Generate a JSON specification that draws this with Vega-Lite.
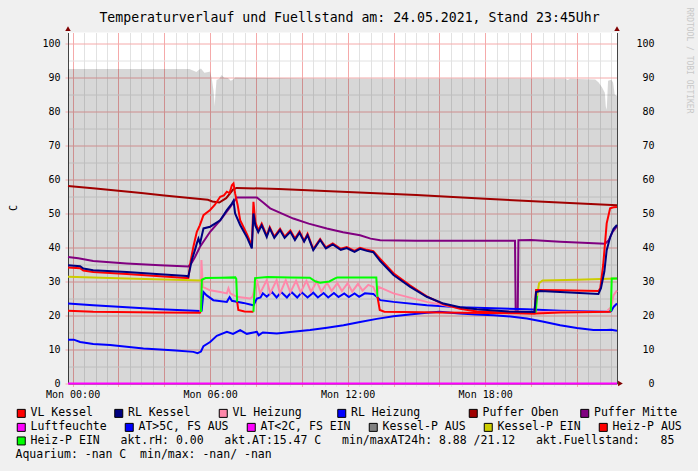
{
  "$schema": "https://vega.github.io/schema/vega-lite/v6.json",
  "width": 549,
  "height": 351,
  "autosize": "none",
  "padding": {"left": 68, "top": 32.5, "right": 81, "bottom": 87.5},
  "background": "#f0f0f0",
  "view": {"fill": "#ffffff", "stroke": null},
  "config": {"font": "DejaVu Sans Mono",
    "legend": {"orient": "none", "legendX": -52.5, "direction": "horizontal", "padding": 0,
      "symbolType": "square", "symbolSize": 64, "symbolStrokeColor": "#000000", "symbolStrokeWidth": 1, "symbolOpacity": 1,
      "labelFont": "DejaVu Sans Mono", "labelFontSize": 11.5, "labelColor": "#000000", "labelOffset": 3.5, "labelLimit": 0,
      "titleFont": "DejaVu Sans Mono", "titleFontSize": 11.5, "titleFontWeight": "normal", "titleColor": "#000000", "titleLimit": 0}},
  "title": {"text": "Temperaturverlauf und Fuellstand am: 24.05.2021, Stand 23:45Uhr", "font": "DejaVu Sans Mono", "fontSize": 13.2, "fontWeight": "normal", "color": "#000000", "anchor": "middle", "frame": "group", "dx": 7, "dy": 39.5, "offset": 11, "baseline": "alphabetic"},
  "datasets": {
    "fill": [
      {"h": -0.2, "v": 92.5}, {"h": 5.1, "v": 92.5}, {"h": 5.3, "v": 91.9}, {"h": 5.4, "v": 91.6}, {"h": 5.5, "v": 92.2}, {"h": 5.6, "v": 92.6}, {"h": 5.75, "v": 91.4}, {"h": 5.92, "v": 91.6}, {"h": 6.0, "v": 91.7}, {"h": 6.08, "v": 89.3}, {"h": 6.15, "v": 86.0}, {"h": 6.2, "v": 81.6}, {"h": 6.24, "v": 86.0}, {"h": 6.28, "v": 89.2}, {"h": 6.4, "v": 89.6}, {"h": 6.5, "v": 90.7}, {"h": 6.62, "v": 89.9}, {"h": 6.78, "v": 89.8}, {"h": 6.9, "v": 89.0}, {"h": 7.0, "v": 89.4}, {"h": 7.1, "v": 90.0}, {"h": 7.5, "v": 89.9}, {"h": 10.0, "v": 89.7}, {"h": 14.0, "v": 89.6}, {"h": 18.0, "v": 89.7}, {"h": 21.5, "v": 89.6}, {"h": 21.6, "v": 89.2}, {"h": 21.7, "v": 89.6}, {"h": 22.8, "v": 89.4}, {"h": 22.95, "v": 88.5}, {"h": 23.1, "v": 87.0}, {"h": 23.22, "v": 85.5}, {"h": 23.26, "v": 81.5}, {"h": 23.3, "v": 80.5}, {"h": 23.36, "v": 89.0}, {"h": 23.5, "v": 89.3}, {"h": 23.58, "v": 88.5}, {"h": 23.65, "v": 85.0}, {"h": 23.75, "v": 84.5}
    ],
    "lines": [
      {"s": "Luftfeuchte", "g": "L", "h": -0.2, "v": 0}, {"s": "Luftfeuchte", "g": "L", "h": 23.75, "v": 0},

      {"s": "AT>5C, FS AUS", "g": "AT", "h": -0.2, "v": 12.9}, {"s": "AT>5C, FS AUS", "g": "AT", "h": 0.05, "v": 12.9}, {"s": "AT>5C, FS AUS", "g": "AT", "h": 0.33, "v": 12.2}, {"s": "AT>5C, FS AUS", "g": "AT", "h": 0.9, "v": 11.6}, {"s": "AT>5C, FS AUS", "g": "AT", "h": 1.64, "v": 11.3}, {"s": "AT>5C, FS AUS", "g": "AT", "h": 2.36, "v": 10.8}, {"s": "AT>5C, FS AUS", "g": "AT", "h": 3.09, "v": 10.3}, {"s": "AT>5C, FS AUS", "g": "AT", "h": 3.82, "v": 10.0}, {"s": "AT>5C, FS AUS", "g": "AT", "h": 4.5, "v": 9.7}, {"s": "AT>5C, FS AUS", "g": "AT", "h": 5.27, "v": 9.3}, {"s": "AT>5C, FS AUS", "g": "AT", "h": 5.45, "v": 8.9}, {"s": "AT>5C, FS AUS", "g": "AT", "h": 5.6, "v": 9.4}, {"s": "AT>5C, FS AUS", "g": "AT", "h": 5.71, "v": 11.0}, {"s": "AT>5C, FS AUS", "g": "AT", "h": 6.0, "v": 12.2}, {"s": "AT>5C, FS AUS", "g": "AT", "h": 6.29, "v": 14.0}, {"s": "AT>5C, FS AUS", "g": "AT", "h": 6.73, "v": 15.2}, {"s": "AT>5C, FS AUS", "g": "AT", "h": 7.0, "v": 14.6}, {"s": "AT>5C, FS AUS", "g": "AT", "h": 7.31, "v": 15.7}, {"s": "AT>5C, FS AUS", "g": "AT", "h": 7.6, "v": 14.6}, {"s": "AT>5C, FS AUS", "g": "AT", "h": 8.04, "v": 15.2}, {"s": "AT>5C, FS AUS", "g": "AT", "h": 8.12, "v": 14.2}, {"s": "AT>5C, FS AUS", "g": "AT", "h": 8.3, "v": 15.0}, {"s": "AT>5C, FS AUS", "g": "AT", "h": 8.91, "v": 14.7}, {"s": "AT>5C, FS AUS", "g": "AT", "h": 9.6, "v": 15.2}, {"s": "AT>5C, FS AUS", "g": "AT", "h": 10.36, "v": 15.7}, {"s": "AT>5C, FS AUS", "g": "AT", "h": 11.1, "v": 16.4}, {"s": "AT>5C, FS AUS", "g": "AT", "h": 11.82, "v": 17.1}, {"s": "AT>5C, FS AUS", "g": "AT", "h": 12.54, "v": 18.1}, {"s": "AT>5C, FS AUS", "g": "AT", "h": 13.27, "v": 19.0}, {"s": "AT>5C, FS AUS", "g": "AT", "h": 14.0, "v": 19.8}, {"s": "AT>5C, FS AUS", "g": "AT", "h": 14.7, "v": 20.3}, {"s": "AT>5C, FS AUS", "g": "AT", "h": 15.45, "v": 20.8}, {"s": "AT>5C, FS AUS", "g": "AT", "h": 16.0, "v": 21.1}, {"s": "AT>5C, FS AUS", "g": "AT", "h": 16.9, "v": 20.6}, {"s": "AT>5C, FS AUS", "g": "AT", "h": 17.6, "v": 20.3}, {"s": "AT>5C, FS AUS", "g": "AT", "h": 18.36, "v": 20.1}, {"s": "AT>5C, FS AUS", "g": "AT", "h": 19.1, "v": 19.7}, {"s": "AT>5C, FS AUS", "g": "AT", "h": 19.82, "v": 19.1}, {"s": "AT>5C, FS AUS", "g": "AT", "h": 20.5, "v": 18.2}, {"s": "AT>5C, FS AUS", "g": "AT", "h": 21.27, "v": 17.1}, {"s": "AT>5C, FS AUS", "g": "AT", "h": 22.0, "v": 16.3}, {"s": "AT>5C, FS AUS", "g": "AT", "h": 22.72, "v": 15.7}, {"s": "AT>5C, FS AUS", "g": "AT", "h": 23.3, "v": 15.7}, {"s": "AT>5C, FS AUS", "g": "AT", "h": 23.5, "v": 15.8}, {"s": "AT>5C, FS AUS", "g": "AT", "h": 23.75, "v": 15.5},

      {"s": "Puffer Oben", "g": "PO", "h": -0.2, "v": 58.1}, {"s": "Puffer Oben", "g": "PO", "h": 1, "v": 57.3}, {"s": "Puffer Oben", "g": "PO", "h": 2, "v": 56.7}, {"s": "Puffer Oben", "g": "PO", "h": 3, "v": 56.0}, {"s": "Puffer Oben", "g": "PO", "h": 4, "v": 55.3}, {"s": "Puffer Oben", "g": "PO", "h": 5, "v": 54.6}, {"s": "Puffer Oben", "g": "PO", "h": 5.9, "v": 54.0}, {"s": "Puffer Oben", "g": "PO", "h": 6.1, "v": 53.5}, {"s": "Puffer Oben", "g": "PO", "h": 6.4, "v": 53.2}, {"s": "Puffer Oben", "g": "PO", "h": 6.7, "v": 54.5}, {"s": "Puffer Oben", "g": "PO", "h": 7.0, "v": 57.0}, {"s": "Puffer Oben", "g": "PO", "h": 7.15, "v": 57.5}, {"s": "Puffer Oben", "g": "PO", "h": 9, "v": 57.2}, {"s": "Puffer Oben", "g": "PO", "h": 12, "v": 56.3}, {"s": "Puffer Oben", "g": "PO", "h": 15, "v": 55.4}, {"s": "Puffer Oben", "g": "PO", "h": 18, "v": 54.3}, {"s": "Puffer Oben", "g": "PO", "h": 21, "v": 53.3}, {"s": "Puffer Oben", "g": "PO", "h": 23.75, "v": 52.4},

      {"s": "Puffer Mitte", "g": "PM", "h": -0.2, "v": 37.2}, {"s": "Puffer Mitte", "g": "PM", "h": 0.25, "v": 36.8}, {"s": "Puffer Mitte", "g": "PM", "h": 0.9, "v": 36.0}, {"s": "Puffer Mitte", "g": "PM", "h": 2.36, "v": 35.3}, {"s": "Puffer Mitte", "g": "PM", "h": 3.82, "v": 34.8}, {"s": "Puffer Mitte", "g": "PM", "h": 5.05, "v": 34.4}, {"s": "Puffer Mitte", "g": "PM", "h": 5.2, "v": 35.5}, {"s": "Puffer Mitte", "g": "PM", "h": 5.34, "v": 37.2}, {"s": "Puffer Mitte", "g": "PM", "h": 5.56, "v": 40.2}, {"s": "Puffer Mitte", "g": "PM", "h": 6.0, "v": 44.6}, {"s": "Puffer Mitte", "g": "PM", "h": 6.44, "v": 48.0}, {"s": "Puffer Mitte", "g": "PM", "h": 6.88, "v": 51.9}, {"s": "Puffer Mitte", "g": "PM", "h": 7.16, "v": 54.7}, {"s": "Puffer Mitte", "g": "PM", "h": 8.04, "v": 54.7}, {"s": "Puffer Mitte", "g": "PM", "h": 8.3, "v": 53.3}, {"s": "Puffer Mitte", "g": "PM", "h": 8.62, "v": 51.5}, {"s": "Puffer Mitte", "g": "PM", "h": 9.63, "v": 48.5}, {"s": "Puffer Mitte", "g": "PM", "h": 10.3, "v": 47.0}, {"s": "Puffer Mitte", "g": "PM", "h": 11.09, "v": 45.6}, {"s": "Puffer Mitte", "g": "PM", "h": 11.8, "v": 44.5}, {"s": "Puffer Mitte", "g": "PM", "h": 12.54, "v": 43.6}, {"s": "Puffer Mitte", "g": "PM", "h": 13.0, "v": 42.6}, {"s": "Puffer Mitte", "g": "PM", "h": 13.42, "v": 42.1}, {"s": "Puffer Mitte", "g": "PM", "h": 15, "v": 42.0}, {"s": "Puffer Mitte", "g": "PM", "h": 17, "v": 42.0}, {"s": "Puffer Mitte", "g": "PM", "h": 19.3, "v": 42.0}, {"s": "Puffer Mitte", "g": "PM", "h": 19.33, "v": 21.2}, {"s": "Puffer Mitte", "g": "PM", "h": 19.42, "v": 21.2}, {"s": "Puffer Mitte", "g": "PM", "h": 19.45, "v": 42.1}, {"s": "Puffer Mitte", "g": "PM", "h": 20, "v": 42.2}, {"s": "Puffer Mitte", "g": "PM", "h": 21.27, "v": 41.7}, {"s": "Puffer Mitte", "g": "PM", "h": 22.5, "v": 41.3}, {"s": "Puffer Mitte", "g": "PM", "h": 23.23, "v": 41.1}, {"s": "Puffer Mitte", "g": "PM", "h": 23.4, "v": 42.2}, {"s": "Puffer Mitte", "g": "PM", "h": 23.55, "v": 44.5}, {"s": "Puffer Mitte", "g": "PM", "h": 23.75, "v": 46.3},

      {"s": "RL Heizung", "g": "RH", "h": -0.2, "v": 23.5}, {"s": "RL Heizung", "g": "RH", "h": 0.9, "v": 23.0}, {"s": "RL Heizung", "g": "RH", "h": 2.36, "v": 22.4}, {"s": "RL Heizung", "g": "RH", "h": 3.82, "v": 21.8}, {"s": "RL Heizung", "g": "RH", "h": 5.56, "v": 21.3}, {"s": "RL Heizung", "g": "RH", "h": 5.63, "v": 21.4}, {"s": "RL Heizung", "g": "RH", "h": 5.71, "v": 26.9}, {"s": "RL Heizung", "g": "RH", "h": 5.85, "v": 25.9}, {"s": "RL Heizung", "g": "RH", "h": 6.14, "v": 24.5}, {"s": "RL Heizung", "g": "RH", "h": 6.73, "v": 24.0}, {"s": "RL Heizung", "g": "RH", "h": 6.85, "v": 25.4}, {"s": "RL Heizung", "g": "RH", "h": 6.95, "v": 24.3}, {"s": "RL Heizung", "g": "RH", "h": 7.45, "v": 23.7}, {"s": "RL Heizung", "g": "RH", "h": 7.89, "v": 23.0}, {"s": "RL Heizung", "g": "RH", "h": 8.04, "v": 25.0}, {"s": "RL Heizung", "g": "RH", "h": 8.2, "v": 25.3}, {"s": "RL Heizung", "g": "RH", "h": 8.3, "v": 26.5}, {"s": "RL Heizung", "g": "RH", "h": 8.47, "v": 25.5}, {"s": "RL Heizung", "g": "RH", "h": 8.7, "v": 26.9}, {"s": "RL Heizung", "g": "RH", "h": 8.9, "v": 25.3}, {"s": "RL Heizung", "g": "RH", "h": 9.1, "v": 26.9}, {"s": "RL Heizung", "g": "RH", "h": 9.35, "v": 25.3}, {"s": "RL Heizung", "g": "RH", "h": 9.55, "v": 26.9}, {"s": "RL Heizung", "g": "RH", "h": 9.8, "v": 25.3}, {"s": "RL Heizung", "g": "RH", "h": 10.0, "v": 26.8}, {"s": "RL Heizung", "g": "RH", "h": 10.25, "v": 25.3}, {"s": "RL Heizung", "g": "RH", "h": 10.5, "v": 26.7}, {"s": "RL Heizung", "g": "RH", "h": 10.7, "v": 25.3}, {"s": "RL Heizung", "g": "RH", "h": 10.95, "v": 26.6}, {"s": "RL Heizung", "g": "RH", "h": 11.15, "v": 25.3}, {"s": "RL Heizung", "g": "RH", "h": 11.4, "v": 26.6}, {"s": "RL Heizung", "g": "RH", "h": 11.6, "v": 25.4}, {"s": "RL Heizung", "g": "RH", "h": 11.85, "v": 26.5}, {"s": "RL Heizung", "g": "RH", "h": 12.05, "v": 25.4}, {"s": "RL Heizung", "g": "RH", "h": 12.3, "v": 26.5}, {"s": "RL Heizung", "g": "RH", "h": 12.5, "v": 25.5}, {"s": "RL Heizung", "g": "RH", "h": 12.75, "v": 26.5}, {"s": "RL Heizung", "g": "RH", "h": 13.12, "v": 26.3}, {"s": "RL Heizung", "g": "RH", "h": 13.27, "v": 25.5}, {"s": "RL Heizung", "g": "RH", "h": 13.42, "v": 24.5}, {"s": "RL Heizung", "g": "RH", "h": 14.0, "v": 24.0}, {"s": "RL Heizung", "g": "RH", "h": 15.45, "v": 23.0}, {"s": "RL Heizung", "g": "RH", "h": 16.9, "v": 22.4}, {"s": "RL Heizung", "g": "RH", "h": 19.82, "v": 21.8}, {"s": "RL Heizung", "g": "RH", "h": 21.27, "v": 21.4}, {"s": "RL Heizung", "g": "RH", "h": 23.3, "v": 21.1}, {"s": "RL Heizung", "g": "RH", "h": 23.5, "v": 21.3}, {"s": "RL Heizung", "g": "RH", "h": 23.6, "v": 22.5}, {"s": "RL Heizung", "g": "RH", "h": 23.75, "v": 23.5},

      {"s": "VL Heizung", "g": "VH", "h": 5.58, "v": 21.0}, {"s": "VL Heizung", "g": "VH", "h": 5.62, "v": 36.3}, {"s": "VL Heizung", "g": "VH", "h": 5.68, "v": 28.4}, {"s": "VL Heizung", "g": "VH", "h": 6.0, "v": 27.4}, {"s": "VL Heizung", "g": "VH", "h": 6.5, "v": 26.8}, {"s": "VL Heizung", "g": "VH", "h": 6.73, "v": 26.5}, {"s": "VL Heizung", "g": "VH", "h": 6.8, "v": 28.0}, {"s": "VL Heizung", "g": "VH", "h": 6.88, "v": 26.5}, {"s": "VL Heizung", "g": "VH", "h": 7.16, "v": 25.5}, {"s": "VL Heizung", "g": "VH", "h": 7.74, "v": 25.0}, {"s": "VL Heizung", "g": "VH", "h": 7.85, "v": 25.5}, {"s": "VL Heizung", "g": "VH", "h": 8.04, "v": 30.4}, {"s": "VL Heizung", "g": "VH", "h": 8.18, "v": 26.5}, {"s": "VL Heizung", "g": "VH", "h": 8.47, "v": 30.4}, {"s": "VL Heizung", "g": "VH", "h": 8.62, "v": 26.5}, {"s": "VL Heizung", "g": "VH", "h": 8.9, "v": 30.4}, {"s": "VL Heizung", "g": "VH", "h": 9.05, "v": 26.5}, {"s": "VL Heizung", "g": "VH", "h": 9.3, "v": 30.4}, {"s": "VL Heizung", "g": "VH", "h": 9.5, "v": 26.8}, {"s": "VL Heizung", "g": "VH", "h": 9.75, "v": 30.2}, {"s": "VL Heizung", "g": "VH", "h": 9.95, "v": 26.8}, {"s": "VL Heizung", "g": "VH", "h": 10.2, "v": 30.2}, {"s": "VL Heizung", "g": "VH", "h": 10.4, "v": 27.0}, {"s": "VL Heizung", "g": "VH", "h": 10.65, "v": 30.0}, {"s": "VL Heizung", "g": "VH", "h": 10.85, "v": 27.0}, {"s": "VL Heizung", "g": "VH", "h": 11.1, "v": 29.6}, {"s": "VL Heizung", "g": "VH", "h": 11.3, "v": 27.2}, {"s": "VL Heizung", "g": "VH", "h": 11.55, "v": 29.5}, {"s": "VL Heizung", "g": "VH", "h": 11.75, "v": 27.2}, {"s": "VL Heizung", "g": "VH", "h": 12.0, "v": 29.5}, {"s": "VL Heizung", "g": "VH", "h": 12.2, "v": 27.0}, {"s": "VL Heizung", "g": "VH", "h": 12.45, "v": 29.3}, {"s": "VL Heizung", "g": "VH", "h": 12.65, "v": 27.3}, {"s": "VL Heizung", "g": "VH", "h": 12.9, "v": 29.0}, {"s": "VL Heizung", "g": "VH", "h": 13.12, "v": 28.4}, {"s": "VL Heizung", "g": "VH", "h": 13.27, "v": 26.0}, {"s": "VL Heizung", "g": "VH", "h": 13.35, "v": 28.4}, {"s": "VL Heizung", "g": "VH", "h": 14.0, "v": 26.5}, {"s": "VL Heizung", "g": "VH", "h": 15.45, "v": 24.0}, {"s": "VL Heizung", "g": "VH", "h": 16.9, "v": 22.1}, {"s": "VL Heizung", "g": "VH", "h": 18.36, "v": 21.4}, {"s": "VL Heizung", "g": "VH", "h": 20.0, "v": 21.0}, {"s": "VL Heizung", "g": "VH", "h": 23.3, "v": 21.2}, {"s": "VL Heizung", "g": "VH", "h": 23.5, "v": 22.5}, {"s": "VL Heizung", "g": "VH", "h": 23.6, "v": 26.0}, {"s": "VL Heizung", "g": "VH", "h": 23.75, "v": 27.4},

      {"s": "Kessel-P EIN", "g": "Y1", "h": -0.2, "v": 31.4}, {"s": "Kessel-P EIN", "g": "Y1", "h": 0.9, "v": 31.2}, {"s": "Kessel-P EIN", "g": "Y1", "h": 2.36, "v": 30.9}, {"s": "Kessel-P EIN", "g": "Y1", "h": 4.0, "v": 30.6}, {"s": "Kessel-P EIN", "g": "Y1", "h": 5.64, "v": 30.3},
      {"s": "Kessel-P EIN", "g": "Y2", "h": 20.27, "v": 25.8}, {"s": "Kessel-P EIN", "g": "Y2", "h": 20.35, "v": 29.5}, {"s": "Kessel-P EIN", "g": "Y2", "h": 20.5, "v": 30.3}, {"s": "Kessel-P EIN", "g": "Y2", "h": 22.0, "v": 30.5}, {"s": "Kessel-P EIN", "g": "Y2", "h": 23.75, "v": 30.9},

      {"s": "Heiz-P AUS", "g": "R1", "h": -0.2, "v": 21.4}, {"s": "Heiz-P AUS", "g": "R1", "h": 0.9, "v": 21.1}, {"s": "Heiz-P AUS", "g": "R1", "h": 3.82, "v": 20.9}, {"s": "Heiz-P AUS", "g": "R1", "h": 5.55, "v": 20.8}, {"s": "Heiz-P AUS", "g": "R1", "h": 5.6, "v": 21.0},
      {"s": "Heiz-P AUS", "g": "R2", "h": 7.18, "v": 24.0}, {"s": "Heiz-P AUS", "g": "R2", "h": 7.23, "v": 21.6}, {"s": "Heiz-P AUS", "g": "R2", "h": 7.5, "v": 21.2}, {"s": "Heiz-P AUS", "g": "R2", "h": 7.89, "v": 21.1},
      {"s": "Heiz-P AUS", "g": "R3", "h": 13.3, "v": 25.5}, {"s": "Heiz-P AUS", "g": "R3", "h": 13.4, "v": 21.6}, {"s": "Heiz-P AUS", "g": "R3", "h": 13.6, "v": 21.1}, {"s": "Heiz-P AUS", "g": "R3", "h": 16.0, "v": 20.9}, {"s": "Heiz-P AUS", "g": "R3", "h": 20.2, "v": 20.6}, {"s": "Heiz-P AUS", "g": "R3", "h": 21.27, "v": 20.9}, {"s": "Heiz-P AUS", "g": "R3", "h": 23.45, "v": 21.1}, {"s": "Heiz-P AUS", "g": "R3", "h": 23.48, "v": 21.2},

      {"s": "Heiz-P EIN", "g": "G1", "h": 5.6, "v": 21.0}, {"s": "Heiz-P EIN", "g": "G1", "h": 5.64, "v": 30.5}, {"s": "Heiz-P EIN", "g": "G1", "h": 5.8, "v": 31.0}, {"s": "Heiz-P EIN", "g": "G1", "h": 6.5, "v": 31.1}, {"s": "Heiz-P EIN", "g": "G1", "h": 7.1, "v": 31.2}, {"s": "Heiz-P EIN", "g": "G1", "h": 7.14, "v": 30.8}, {"s": "Heiz-P EIN", "g": "G1", "h": 7.18, "v": 24.0},
      {"s": "Heiz-P EIN", "g": "G2", "h": 7.89, "v": 21.1}, {"s": "Heiz-P EIN", "g": "G2", "h": 7.93, "v": 26.5}, {"s": "Heiz-P EIN", "g": "G2", "h": 7.96, "v": 31.0}, {"s": "Heiz-P EIN", "g": "G2", "h": 8.5, "v": 31.3}, {"s": "Heiz-P EIN", "g": "G2", "h": 9.5, "v": 31.2}, {"s": "Heiz-P EIN", "g": "G2", "h": 10.35, "v": 31.1}, {"s": "Heiz-P EIN", "g": "G2", "h": 10.6, "v": 30.0}, {"s": "Heiz-P EIN", "g": "G2", "h": 10.8, "v": 29.6}, {"s": "Heiz-P EIN", "g": "G2", "h": 11.2, "v": 30.0}, {"s": "Heiz-P EIN", "g": "G2", "h": 11.45, "v": 30.9}, {"s": "Heiz-P EIN", "g": "G2", "h": 11.55, "v": 31.2}, {"s": "Heiz-P EIN", "g": "G2", "h": 13.25, "v": 31.2}, {"s": "Heiz-P EIN", "g": "G2", "h": 13.3, "v": 25.5},
      {"s": "Heiz-P EIN", "g": "G3", "h": 20.2, "v": 20.8}, {"s": "Heiz-P EIN", "g": "G3", "h": 20.27, "v": 25.8},
      {"s": "Heiz-P EIN", "g": "G4", "h": 23.48, "v": 21.2}, {"s": "Heiz-P EIN", "g": "G4", "h": 23.52, "v": 30.9}, {"s": "Heiz-P EIN", "g": "G4", "h": 23.75, "v": 30.9},

      {"s": "VL Kessel", "g": "VK", "h": -0.2, "v": 34.1}, {"s": "VL Kessel", "g": "VK", "h": 0.33, "v": 33.9}, {"s": "VL Kessel", "g": "VK", "h": 0.47, "v": 33.2}, {"s": "VL Kessel", "g": "VK", "h": 0.9, "v": 32.8}, {"s": "VL Kessel", "g": "VK", "h": 2.36, "v": 32.2}, {"s": "VL Kessel", "g": "VK", "h": 3.82, "v": 31.5}, {"s": "VL Kessel", "g": "VK", "h": 4.98, "v": 31.0}, {"s": "VL Kessel", "g": "VK", "h": 5.05, "v": 31.0}, {"s": "VL Kessel", "g": "VK", "h": 5.15, "v": 36.0}, {"s": "VL Kessel", "g": "VK", "h": 5.27, "v": 40.2}, {"s": "VL Kessel", "g": "VK", "h": 5.42, "v": 44.6}, {"s": "VL Kessel", "g": "VK", "h": 5.55, "v": 46.5}, {"s": "VL Kessel", "g": "VK", "h": 5.71, "v": 49.5}, {"s": "VL Kessel", "g": "VK", "h": 6.0, "v": 51.0}, {"s": "VL Kessel", "g": "VK", "h": 6.2, "v": 52.5}, {"s": "VL Kessel", "g": "VK", "h": 6.44, "v": 54.9}, {"s": "VL Kessel", "g": "VK", "h": 6.6, "v": 55.3}, {"s": "VL Kessel", "g": "VK", "h": 6.73, "v": 56.4}, {"s": "VL Kessel", "g": "VK", "h": 6.85, "v": 56.0}, {"s": "VL Kessel", "g": "VK", "h": 6.95, "v": 58.3}, {"s": "VL Kessel", "g": "VK", "h": 7.02, "v": 58.8}, {"s": "VL Kessel", "g": "VK", "h": 7.09, "v": 55.9}, {"s": "VL Kessel", "g": "VK", "h": 7.2, "v": 52.5}, {"s": "VL Kessel", "g": "VK", "h": 7.31, "v": 48.0}, {"s": "VL Kessel", "g": "VK", "h": 7.6, "v": 44.0}, {"s": "VL Kessel", "g": "VK", "h": 7.82, "v": 40.5}, {"s": "VL Kessel", "g": "VK", "h": 7.89, "v": 53.4}, {"s": "VL Kessel", "g": "VK", "h": 7.97, "v": 47.5}, {"s": "VL Kessel", "g": "VK", "h": 8.1, "v": 45.0}, {"s": "VL Kessel", "g": "VK", "h": 8.25, "v": 47.0}, {"s": "VL Kessel", "g": "VK", "h": 8.47, "v": 43.5}, {"s": "VL Kessel", "g": "VK", "h": 8.6, "v": 46.0}, {"s": "VL Kessel", "g": "VK", "h": 8.8, "v": 43.2}, {"s": "VL Kessel", "g": "VK", "h": 9.05, "v": 45.5}, {"s": "VL Kessel", "g": "VK", "h": 9.25, "v": 43.2}, {"s": "VL Kessel", "g": "VK", "h": 9.5, "v": 45.0}, {"s": "VL Kessel", "g": "VK", "h": 9.7, "v": 42.6}, {"s": "VL Kessel", "g": "VK", "h": 9.9, "v": 44.7}, {"s": "VL Kessel", "g": "VK", "h": 10.1, "v": 42.0}, {"s": "VL Kessel", "g": "VK", "h": 10.25, "v": 44.0}, {"s": "VL Kessel", "g": "VK", "h": 10.5, "v": 39.5}, {"s": "VL Kessel", "g": "VK", "h": 10.8, "v": 42.5}, {"s": "VL Kessel", "g": "VK", "h": 11.05, "v": 40.0}, {"s": "VL Kessel", "g": "VK", "h": 11.35, "v": 41.2}, {"s": "VL Kessel", "g": "VK", "h": 11.7, "v": 39.6}, {"s": "VL Kessel", "g": "VK", "h": 11.96, "v": 40.1}, {"s": "VL Kessel", "g": "VK", "h": 12.3, "v": 39.0}, {"s": "VL Kessel", "g": "VK", "h": 12.54, "v": 39.9}, {"s": "VL Kessel", "g": "VK", "h": 12.84, "v": 39.3}, {"s": "VL Kessel", "g": "VK", "h": 13.12, "v": 38.9}, {"s": "VL Kessel", "g": "VK", "h": 13.42, "v": 36.6}, {"s": "VL Kessel", "g": "VK", "h": 14.0, "v": 32.4}, {"s": "VL Kessel", "g": "VK", "h": 14.73, "v": 28.8}, {"s": "VL Kessel", "g": "VK", "h": 15.45, "v": 25.6}, {"s": "VL Kessel", "g": "VK", "h": 16.18, "v": 23.3}, {"s": "VL Kessel", "g": "VK", "h": 16.9, "v": 22.0}, {"s": "VL Kessel", "g": "VK", "h": 17.64, "v": 21.2}, {"s": "VL Kessel", "g": "VK", "h": 19.0, "v": 20.8}, {"s": "VL Kessel", "g": "VK", "h": 20.15, "v": 20.6}, {"s": "VL Kessel", "g": "VK", "h": 20.22, "v": 27.5}, {"s": "VL Kessel", "g": "VK", "h": 21.27, "v": 27.4}, {"s": "VL Kessel", "g": "VK", "h": 22.94, "v": 27.2}, {"s": "VL Kessel", "g": "VK", "h": 23.02, "v": 28.0}, {"s": "VL Kessel", "g": "VK", "h": 23.15, "v": 35.0}, {"s": "VL Kessel", "g": "VK", "h": 23.3, "v": 47.1}, {"s": "VL Kessel", "g": "VK", "h": 23.45, "v": 51.5}, {"s": "VL Kessel", "g": "VK", "h": 23.6, "v": 51.8}, {"s": "VL Kessel", "g": "VK", "h": 23.75, "v": 51.9},

      {"s": "RL Kessel", "g": "RK", "h": -0.2, "v": 34.8}, {"s": "RL Kessel", "g": "RK", "h": 0.33, "v": 34.5}, {"s": "RL Kessel", "g": "RK", "h": 0.47, "v": 33.8}, {"s": "RL Kessel", "g": "RK", "h": 0.9, "v": 33.3}, {"s": "RL Kessel", "g": "RK", "h": 2.36, "v": 32.8}, {"s": "RL Kessel", "g": "RK", "h": 3.82, "v": 32.1}, {"s": "RL Kessel", "g": "RK", "h": 4.98, "v": 31.6}, {"s": "RL Kessel", "g": "RK", "h": 5.05, "v": 31.4}, {"s": "RL Kessel", "g": "RK", "h": 5.13, "v": 34.0}, {"s": "RL Kessel", "g": "RK", "h": 5.2, "v": 36.3}, {"s": "RL Kessel", "g": "RK", "h": 5.35, "v": 39.5}, {"s": "RL Kessel", "g": "RK", "h": 5.42, "v": 41.2}, {"s": "RL Kessel", "g": "RK", "h": 5.49, "v": 42.6}, {"s": "RL Kessel", "g": "RK", "h": 5.56, "v": 41.2}, {"s": "RL Kessel", "g": "RK", "h": 5.71, "v": 45.6}, {"s": "RL Kessel", "g": "RK", "h": 6.0, "v": 46.1}, {"s": "RL Kessel", "g": "RK", "h": 6.44, "v": 48.0}, {"s": "RL Kessel", "g": "RK", "h": 6.73, "v": 51.0}, {"s": "RL Kessel", "g": "RK", "h": 6.95, "v": 52.9}, {"s": "RL Kessel", "g": "RK", "h": 7.02, "v": 53.7}, {"s": "RL Kessel", "g": "RK", "h": 7.09, "v": 50.0}, {"s": "RL Kessel", "g": "RK", "h": 7.31, "v": 46.6}, {"s": "RL Kessel", "g": "RK", "h": 7.6, "v": 43.1}, {"s": "RL Kessel", "g": "RK", "h": 7.82, "v": 39.7}, {"s": "RL Kessel", "g": "RK", "h": 7.89, "v": 50.0}, {"s": "RL Kessel", "g": "RK", "h": 7.97, "v": 46.5}, {"s": "RL Kessel", "g": "RK", "h": 8.1, "v": 44.5}, {"s": "RL Kessel", "g": "RK", "h": 8.25, "v": 46.5}, {"s": "RL Kessel", "g": "RK", "h": 8.47, "v": 43.1}, {"s": "RL Kessel", "g": "RK", "h": 8.6, "v": 45.6}, {"s": "RL Kessel", "g": "RK", "h": 8.8, "v": 42.8}, {"s": "RL Kessel", "g": "RK", "h": 9.05, "v": 45.1}, {"s": "RL Kessel", "g": "RK", "h": 9.25, "v": 42.8}, {"s": "RL Kessel", "g": "RK", "h": 9.5, "v": 44.6}, {"s": "RL Kessel", "g": "RK", "h": 9.7, "v": 42.2}, {"s": "RL Kessel", "g": "RK", "h": 9.9, "v": 44.3}, {"s": "RL Kessel", "g": "RK", "h": 10.1, "v": 41.7}, {"s": "RL Kessel", "g": "RK", "h": 10.25, "v": 43.6}, {"s": "RL Kessel", "g": "RK", "h": 10.5, "v": 39.2}, {"s": "RL Kessel", "g": "RK", "h": 10.8, "v": 42.2}, {"s": "RL Kessel", "g": "RK", "h": 11.05, "v": 39.7}, {"s": "RL Kessel", "g": "RK", "h": 11.35, "v": 40.9}, {"s": "RL Kessel", "g": "RK", "h": 11.7, "v": 39.3}, {"s": "RL Kessel", "g": "RK", "h": 11.96, "v": 39.8}, {"s": "RL Kessel", "g": "RK", "h": 12.3, "v": 38.7}, {"s": "RL Kessel", "g": "RK", "h": 12.54, "v": 39.6}, {"s": "RL Kessel", "g": "RK", "h": 12.84, "v": 39.0}, {"s": "RL Kessel", "g": "RK", "h": 13.12, "v": 38.6}, {"s": "RL Kessel", "g": "RK", "h": 13.42, "v": 36.0}, {"s": "RL Kessel", "g": "RK", "h": 14.0, "v": 31.9}, {"s": "RL Kessel", "g": "RK", "h": 14.73, "v": 28.4}, {"s": "RL Kessel", "g": "RK", "h": 15.45, "v": 25.5}, {"s": "RL Kessel", "g": "RK", "h": 16.18, "v": 23.5}, {"s": "RL Kessel", "g": "RK", "h": 16.9, "v": 22.4}, {"s": "RL Kessel", "g": "RK", "h": 17.64, "v": 21.8}, {"s": "RL Kessel", "g": "RK", "h": 19.0, "v": 21.2}, {"s": "RL Kessel", "g": "RK", "h": 20.15, "v": 21.0}, {"s": "RL Kessel", "g": "RK", "h": 20.22, "v": 26.9}, {"s": "RL Kessel", "g": "RK", "h": 20.4, "v": 27.2}, {"s": "RL Kessel", "g": "RK", "h": 21.27, "v": 26.9}, {"s": "RL Kessel", "g": "RK", "h": 22.94, "v": 26.3}, {"s": "RL Kessel", "g": "RK", "h": 23.05, "v": 28.0}, {"s": "RL Kessel", "g": "RK", "h": 23.2, "v": 33.0}, {"s": "RL Kessel", "g": "RK", "h": 23.3, "v": 39.2}, {"s": "RL Kessel", "g": "RK", "h": 23.45, "v": 43.0}, {"s": "RL Kessel", "g": "RK", "h": 23.6, "v": 45.5}, {"s": "RL Kessel", "g": "RK", "h": 23.75, "v": 46.6}
    ]
  },
  "layer": [
    {
      "data": {"name": "fill"},
      "mark": {"type": "area", "color": "#000000", "opacity": 0.155},
      "encoding": {
        "x": {"field": "h", "type": "quantitative", "scale": {"domain": [-0.2, 23.75], "nice": false, "zero": false},
          "axis": {"orient": "bottom", "values": [0,0.5,1,1.5,2,2.5,3,3.5,4,4.5,5,5.5,6,6.5,7,7.5,8,8.5,9,9.5,10,10.5,11,11.5,12,12.5,13,13.5,14,14.5,15,15.5,16,16.5,17,17.5,18,18.5,19,19.5,20,20.5,21,21.5,22,22.5,23,23.5],
            "grid": true,
            "gridColor": {"condition": {"test": "datum.value % 2 === 0", "value": "#f5aaaa"}, "value": "#e2e2e2"},
            "ticks": true, "tickSize": 3,
            "tickColor": {"condition": {"test": "datum.value % 2 === 0", "value": "#f5aaaa"}, "value": "#e2e2e2"},
            "labelExpr": "datum.value % 6 === 0 ? 'Mon ' + (datum.value < 10 ? '0' : '') + datum.value + ':00' : ''",
            "labelFont": "DejaVu Sans Mono", "labelFontSize": 10, "labelColor": "#000000", "labelPadding": 3,
            "labelOverlap": false, "labelFlush": false, "labelBound": false,
            "domain": true, "domainColor": "#444444", "title": null}},
        "y": {"field": "v", "type": "quantitative", "scale": {"domain": [0, 103.2], "nice": false},
          "axis": {"orient": "left", "values": [0,10,20,30,40,50,60,70,80,90,100], "grid": true, "gridColor": "#f5aaaa",
            "ticks": true, "tickSize": 3, "tickColor": "#f5aaaa",
            "labelFont": "DejaVu Sans Mono", "labelFontSize": 10, "labelColor": "#000000", "labelPadding": 5, "labelFlush": false, "labelOverlap": false,
            "domain": true, "domainColor": "#444444",
            "title": "C", "titleFont": "DejaVu Sans Mono", "titleFontSize": 10, "titleFontWeight": "normal", "titleColor": "#000000",
            "titleAngle": 270, "titleX": -54.7, "titleY": 175, "titleAlign": "center", "titleBaseline": "middle"}}
      }
    },
    {
      "data": {"name": "lines"},
      "mark": {"type": "line", "strokeWidth": 2},
      "encoding": {
        "x": {"field": "h", "type": "quantitative", "axis": null},
        "y": {"field": "v", "type": "quantitative",
          "axis": {"orient": "right", "values": [0,5,10,15,20,25,30,35,40,45,50,55,60,65,70,75,80,85,90,95,100], "grid": true,
            "gridColor": {"condition": {"test": "datum.value % 10 === 0", "value": "transparent"}, "value": "#e2e2e2"},
            "ticks": false, "tickSize": 0,
            "labelExpr": "datum.value % 10 === 0 ? datum.label : ''", "labelAlign": "right", "labelPadding": 37,
            "labelFont": "DejaVu Sans Mono", "labelFontSize": 10, "labelColor": "#000000", "labelFlush": false, "labelOverlap": false,
            "domain": true, "domainColor": "#444444",
            "title": "RRDTOOL / TOBI OETIKER", "titleFont": "DejaVu Sans Mono", "titleFontSize": 8, "titleFontWeight": "normal", "titleColor": "#c8c8c8",
            "titleAngle": 90, "titleX": 71, "titleY": -25.5, "titleAlign": "left", "titleBaseline": "middle"}},
        "stroke": {"field": "s", "type": "nominal",
          "scale": {"domain": ["Heiz-P EIN","Heiz-P AUS","Kessel-P EIN","Kessel-P AUS","AT<2C, FS EIN","AT>5C, FS AUS","Luftfeuchte","Puffer Mitte","Puffer Oben","RL Heizung","VL Heizung","RL Kessel","VL Kessel"],
            "range": ["#00ff00","#ff0000","#cccc00","#808080","#ff00ff","#0000ff","#ff00ff","#800080","#a00000","#0000ff","#ff88aa","#000080","#ff0000"]},
          "legend": null},
        "detail": {"field": "g", "type": "nominal"}
      }
    },
    {
      "data": {"name": "lines"},
      "transform": [{"filter": "datum.s === 'Luftfeuchte'"}],
      "mark": {"type": "square", "opacity": 1, "size": 0},
      "encoding": {
        "x": {"field": "h", "type": "quantitative", "axis": null},
        "y": {"field": "v", "type": "quantitative", "axis": null},
        "fill": {"field": "s", "type": "nominal",
          "scale": {"domain": ["VL Kessel","RL Kessel","VL Heizung","RL Heizung","Puffer Oben","Puffer Mitte"],
            "range": ["#ff0000","#000080","#ff88aa","#0000ff","#a00000","#800080"]},
          "legend": {"legendY": 375, "columns": 6, "columnPadding": 18.5, "title": null,
            "labelExpr": "datum.value === 'RL Kessel' ? 'RL Kessel\u00a0\u200b' : datum.value === 'VL Heizung' ? 'VL Heizung\u00a0\u00a0\u200b' : datum.value === 'RL Heizung' ? 'RL Heizung\u00a0\u00a0\u00a0\u00a0\u200b' : datum.label"}}
      }
    },
    {
      "data": {"name": "lines"},
      "transform": [{"filter": "datum.s === 'Luftfeuchte'"}],
      "mark": {"type": "square", "opacity": 1, "size": 0},
      "encoding": {
        "x": {"field": "h", "type": "quantitative", "axis": null},
        "y": {"field": "v", "type": "quantitative", "axis": null},
        "fill": {"field": "s", "type": "nominal",
          "scale": {"domain": ["Luftfeuchte","AT>5C, FS AUS","AT<2C, FS EIN","Kessel-P AUS","Kessel-P EIN","Heiz-P AUS"],
            "range": ["#ff00ff","#0000ff","#ff00ff","#808080","#cccc00","#ff0000"]},
          "legend": {"legendY": 389, "columns": 6, "columnPadding": 15, "title": null}}
      }
    },
    {
      "data": {"name": "lines"},
      "transform": [{"filter": "datum.s === 'Luftfeuchte'"}],
      "mark": {"type": "square", "opacity": 1, "size": 0},
      "encoding": {
        "x": {"field": "h", "type": "quantitative", "axis": null},
        "y": {"field": "v", "type": "quantitative", "axis": null},
        "fill": {"field": "s", "type": "nominal",
          "scale": {"domain": ["Heiz-P EIN"], "range": ["#00ff00"]},
          "legend": {"legendY": 402.7, "columns": 1,
            "labelExpr": "datum.value === 'Heiz-P EIN' ? 'Heiz-P EIN\u00a0\u00a0\u00a0akt.rH: 0.00\u00a0\u00a0\u00a0akt.AT:15.47 C\u00a0\u00a0\u00a0min/maxAT24h: 8.88 /21.12\u00a0\u00a0\u00a0akt.Fuellstand:\u00a0\u00a0\u00a085' : datum.label",
            "title": "Aquarium: -nan C\u00a0\u00a0min/max: -nan/ -nan", "titleOrient": "bottom", "titleAnchor": "start", "titlePadding": 1.7}}
      }
    },
    {
      "data": {"values": [{}]},
      "mark": {"type": "point", "shape": "triangle-up", "filled": true, "color": "#800000", "size": 30, "opacity": 1},
      "encoding": {"x": {"datum": -0.2, "type": "quantitative", "axis": null}, "y": {"datum": 104.35, "type": "quantitative", "axis": null}}
    },
    {
      "data": {"values": [{}]},
      "mark": {"type": "point", "shape": "triangle-up", "filled": true, "color": "#800000", "size": 30, "opacity": 1},
      "encoding": {"x": {"datum": 23.75, "type": "quantitative", "axis": null}, "y": {"datum": 104.35, "type": "quantitative", "axis": null}}
    },
    {
      "data": {"values": [{}]},
      "mark": {"type": "point", "shape": "triangle-right", "filled": true, "color": "#800000", "size": 30, "opacity": 1},
      "encoding": {"x": {"datum": 23.9, "type": "quantitative", "axis": null}, "y": {"datum": 0, "type": "quantitative", "axis": null}}
    }
  ],
  "resolve": {"axis": {"x": "independent", "y": "independent"}, "scale": {"fill": "independent"}, "legend": {"fill": "independent"}}
}
